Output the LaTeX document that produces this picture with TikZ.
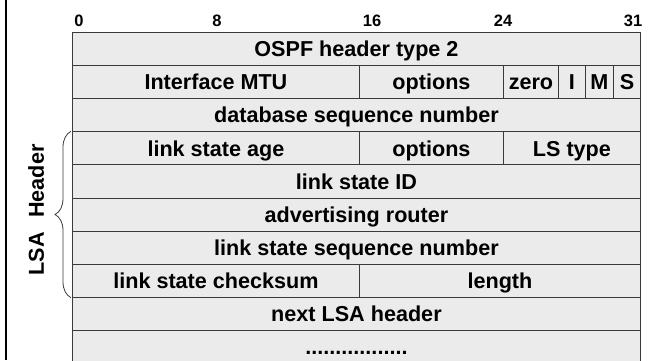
\documentclass[tikz,border=0pt]{standalone}
\usepackage{fontspec}
\setmainfont{Liberation Sans}
\usetikzlibrary{decorations.pathreplacing}
\definecolor{cellfill}{HTML}{EBEBEB}
\definecolor{cellline}{HTML}{3A3A3A}
\newcommand\cellbox[5]{\node[cell, minimum width={(#3)-(#2)}] (#1) at (#2,{32+33.1*#4}) {#5};}
\begin{document}
\begin{tikzpicture}[x=1pt,y=-1pt,
  cell/.style={draw=cellline, fill=cellfill, line width=0.9pt, rectangle,
    anchor=north west, inner sep=0pt, minimum height=33.1pt,
    text height=15.5pt, text depth=0pt,
    font=\fontsize{21.6}{24}\selectfont\bfseries},
  bitnum/.style={inner sep=0pt, text height=11.8pt, text depth=0pt,
    font=\fontsize{16.5}{18}\selectfont\bfseries},
  sidelabel/.style={rotate=90, inner sep=0pt, text height=15.5pt, text depth=0pt,
    font=\fontsize{21.6}{24}\selectfont\bfseries},
  bracestyle/.style={draw=cellline, line width=0.8pt, decorate,
    decoration={brace, amplitude=16pt}}]
\useasboundingbox (0,0) rectangle (650,360);
\clip (0,0) rectangle (650,360);
% frame line
\draw[line width=2pt, black] (6,0) -- (6,360);
% bit numbers
\node[bitnum] (b0)  at (79,21)  {0};
\node[bitnum] (b8)  at (217,21) {8};
\node[bitnum] (b16) at (372,21) {16};
\node[bitnum] (b24) at (503,21) {24};
\node[bitnum] (b31) at (633,21) {31};
% rows
\cellbox{ospf}{72}{640}{0}{OSPF header type 2}
\cellbox{mtu}{72}{359}{1}{Interface MTU}
\cellbox{optA}{359}{503}{1}{options}
\cellbox{zero}{503}{558}{1}{zero}
\cellbox{bitI}{558}{585}{1}{I}
\cellbox{bitM}{585}{613}{1}{M}
\cellbox{bitS}{613}{640}{1}{S}
\cellbox{dbseq}{72}{640}{2}{database sequence number}
\cellbox{age}{72}{359}{3}{link state age}
\cellbox{optB}{359}{503}{3}{options}
\cellbox{lstype}{503}{640}{3}{LS type}
\cellbox{lsid}{72}{640}{4}{link state ID}
\cellbox{advr}{72}{640}{5}{advertising router}
\cellbox{lsseq}{72}{640}{6}{link state sequence number}
\cellbox{cksum}{72}{359}{7}{link state checksum}
\cellbox{len}{359}{640}{7}{length}
\cellbox{next}{72}{640}{8}{next LSA header}
\cellbox{dots}{72}{640}{9}{.................}
% brace and label
\draw[bracestyle] ([xshift=-1pt]cksum.south west) -- ([xshift=-1pt]age.north west);
\node[sidelabel] (lsa) at (36,210) {LSA\hspace{0.4em} Header};
\end{tikzpicture}
\end{document}
